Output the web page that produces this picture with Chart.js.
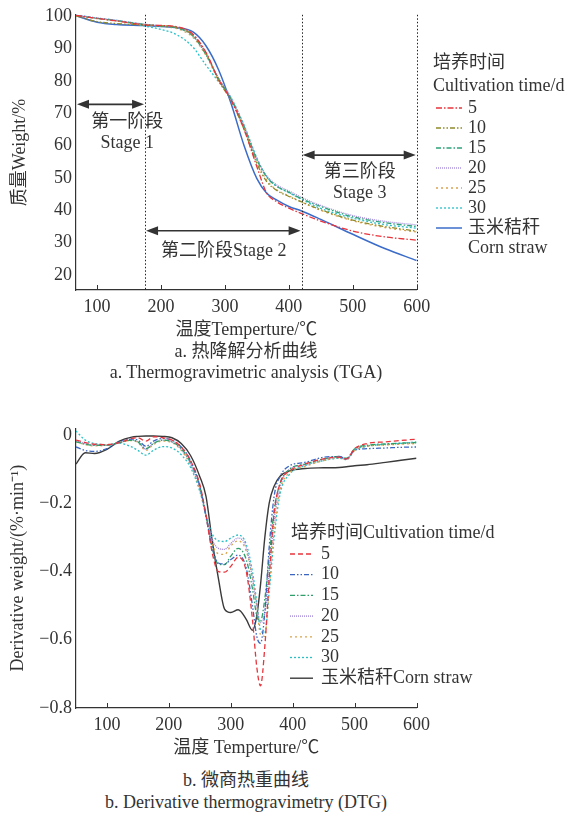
<!DOCTYPE html>
<html>
<head>
<meta charset="utf-8">
<title>TGA / DTG</title>
<script src="https://cdn.jsdelivr.net/npm/chart.js@4.4.1/dist/chart.umd.min.js"></script>
<style>
  body { margin: 0; background: #fff; }
  #page { position: relative; width: 571px; height: 816px; overflow: hidden; color: #333;
          font-family: "Liberation Serif", "Noto Sans CJK SC", serif; }
  canvas { position: absolute; left: 0; }
  #tga { top: 0; }
  #dtg { top: 400px; }
  .cap { position: absolute; left: 0; width: 492px; text-align: center; font-size: 18px;
         line-height: 21px; white-space: nowrap; }
</style>
</head>
<body>
<div id="page">
  <canvas id="tga" width="571" height="345"></canvas>
  <div class="cap" style="top:341px">a. 热降解分析曲线</div>
  <div class="cap" style="top:362px">a. Thermogravimetric analysis (TGA)</div>
  <canvas id="dtg" width="571" height="362"></canvas>
  <div class="cap" style="top:770px">b. 微商热重曲线</div>
  <div class="cap" style="top:792px">b. Derivative thermogravimetry (DTG)</div>
</div>
<script>
const FONT = '"Liberation Serif", "Noto Sans CJK SC", serif';
Chart.defaults.font.family = FONT;
Chart.defaults.font.size = 18;
Chart.defaults.color = '#333';

// ---- a. TGA, weight % vs temperature ----
const tgaTemp  = [67, 100, 130, 175, 200, 225, 250, 270, 290, 310, 330, 350, 365, 380, 400, 420, 450, 500, 550, 600];
const tga5     = [100.3, 99.4, 98.6, 97.4, 97.2, 96.8, 94.5, 89.0, 80.5, 74.0, 65.0, 53.5, 45.5, 42.8, 40.7, 39.0, 36.7, 33.6, 31.8, 30.8];
const tga10    = [100.2, 98.4, 97.8, 97.3, 97.1, 96.6, 94.2, 88.8, 80.2, 73.8, 65.0, 54.5, 49.0, 46.3, 44.3, 42.6, 40.2, 37.0, 35.0, 33.6];
const tga15    = [100.3, 99.4, 98.7, 97.5, 97.0, 96.4, 93.9, 88.3, 80.7, 74.3, 65.8, 55.6, 50.4, 47.6, 45.6, 43.6, 41.2, 38.0, 36.2, 35.0];
const tga20    = [100.4, 99.5, 98.8, 97.6, 97.1, 96.5, 94.0, 88.5, 81.0, 74.7, 66.2, 56.0, 50.8, 48.0, 46.0, 44.0, 41.5, 38.4, 36.6, 35.5];
const tga25    = [100.2, 99.3, 98.6, 97.3, 96.9, 96.2, 93.5, 88.0, 80.3, 74.0, 65.3, 55.0, 49.5, 46.5, 44.5, 42.6, 40.0, 36.8, 34.7, 33.3];
const tga30    = [100.5, 99.5, 98.8, 97.0, 96.0, 94.3, 90.5, 85.0, 79.8, 74.6, 66.3, 56.2, 50.6, 47.6, 45.5, 43.4, 40.6, 37.6, 35.6, 34.5];
const tgaStraw = [100.2, 98.2, 97.5, 97.2, 96.9, 96.5, 95.2, 91.0, 83.5, 72.8, 60.0, 49.8, 45.4, 43.3, 41.2, 39.8, 37.2, 32.6, 28.2, 24.5];
const tgaXTicks = [100, 200, 300, 400, 500, 600];
const tgaYTicks = [20, 30, 40, 50, 60, 70, 80, 90, 100];

// stage dividers and arrows
const stageEdges = [175, 420, 600];
const stages = [
  { from: 67,  to: 175, level: 72.8, tx: 147, ty: 67.3, text: ['第一阶段', 'Stage 1'] },
  { from: 175, to: 420, level: 33.7, tx: 298, ty: 27.5, text: ['第二阶段Stage 2'] },
  { from: 420, to: 600, level: 57.1, tx: 511, ty: 51.9, text: ['第三阶段', 'Stage 3'] }
];

// ---- b. DTG, %/min vs temperature ----
const dtgTemp  = [50, 65, 80, 100, 120, 140, 150, 163, 175, 190, 205, 220, 235, 250, 260, 270, 280, 290, 300, 312,
                  325, 335, 342, 348, 355, 362, 370, 380, 395, 420, 450, 475, 487, 500, 520, 550, 575, 600];
const dtg5     = [-0.015, -0.022, -0.027, -0.028, -0.022, -0.010, -0.008, -0.018, -0.005, -0.008, -0.015, -0.035, -0.075, -0.145, -0.235, -0.345, -0.400, -0.402, -0.385, -0.358,
                  -0.400, -0.540, -0.680, -0.735, -0.620, -0.420, -0.230, -0.140, -0.105, -0.085, -0.070, -0.065, -0.070, -0.040, -0.025, -0.020, -0.016, -0.012];
const dtg10    = [-0.035, -0.045, -0.048, -0.040, -0.020, -0.012, -0.015, -0.033, -0.018, -0.010, -0.015, -0.035, -0.075, -0.150, -0.240, -0.330, -0.375, -0.378, -0.365, -0.352,
                  -0.390, -0.500, -0.590, -0.610, -0.520, -0.330, -0.180, -0.120, -0.090, -0.080, -0.065, -0.063, -0.070, -0.045, -0.040, -0.038, -0.036, -0.035];
const dtg15    = [-0.020, -0.027, -0.030, -0.030, -0.022, -0.015, -0.020, -0.040, -0.025, -0.015, -0.020, -0.040, -0.080, -0.150, -0.235, -0.330, -0.378, -0.380, -0.355, -0.332,
                  -0.365, -0.450, -0.530, -0.545, -0.480, -0.360, -0.220, -0.140, -0.100, -0.085, -0.070, -0.063, -0.068, -0.040, -0.030, -0.026, -0.024, -0.022];
const dtg20    = [-0.018, -0.025, -0.030, -0.030, -0.022, -0.015, -0.020, -0.042, -0.025, -0.015, -0.020, -0.042, -0.085, -0.155, -0.235, -0.305, -0.332, -0.335, -0.318, -0.302,
                  -0.330, -0.420, -0.500, -0.550, -0.520, -0.400, -0.250, -0.150, -0.100, -0.088, -0.072, -0.065, -0.070, -0.042, -0.032, -0.028, -0.025, -0.023];
const dtg25    = [-0.020, -0.028, -0.032, -0.030, -0.022, -0.016, -0.022, -0.045, -0.028, -0.018, -0.022, -0.045, -0.088, -0.160, -0.240, -0.320, -0.348, -0.350, -0.325, -0.310,
                  -0.340, -0.420, -0.500, -0.585, -0.590, -0.450, -0.280, -0.160, -0.110, -0.092, -0.075, -0.067, -0.072, -0.045, -0.033, -0.029, -0.027, -0.025];
const dtg30    = [0.012, -0.015, -0.025, -0.028, -0.024, -0.035, -0.045, -0.059, -0.045, -0.034, -0.038, -0.058, -0.095, -0.165, -0.235, -0.290, -0.310, -0.312, -0.302, -0.293,
                  -0.320, -0.400, -0.490, -0.570, -0.580, -0.460, -0.300, -0.170, -0.115, -0.090, -0.075, -0.068, -0.072, -0.045, -0.033, -0.027, -0.024, -0.020];
const dtgStraw = [-0.085, -0.052, -0.054, -0.042, -0.018, -0.006, -0.004, -0.003, -0.003, -0.004, -0.008, -0.025, -0.060, -0.122, -0.180, -0.310, -0.420, -0.510, -0.520, -0.512,
                  -0.540, -0.572, -0.530, -0.440, -0.300, -0.200, -0.150, -0.120, -0.105, -0.098, -0.096, -0.095, -0.093, -0.090, -0.087, -0.080, -0.074, -0.068];
const dtgXTicks = [100, 200, 300, 400, 500, 600];
const dtgYTicks = [0, -0.2, -0.4, -0.6, -0.8];

const toPoints = (xs, ys) => xs.map((x, i) => ({ x: x, y: ys[i] }));

function series(label, xs, ys, color, dash, width) {
  return {
    label: label,
    data: toPoints(xs, ys),
    borderColor: color,
    backgroundColor: color,
    borderDash: dash,
    borderWidth: width || 1.3,
    pointRadius: 0,
    fill: false,
    cubicInterpolationMode: 'monotone'
  };
}

// tick marks pointing into the plot
const innerTicks = {
  id: 'innerTicks',
  afterDraw(chart) {
    const { ctx, chartArea, scales: { x } } = chart;
    ctx.save();
    ctx.strokeStyle = '#333';
    ctx.lineWidth = 1;
    x.ticks.forEach(t => {
      const px = Math.round(x.getPixelForValue(t.value)) + 0.5;
      ctx.beginPath();
      ctx.moveTo(px, chartArea.bottom);
      ctx.lineTo(px, chartArea.bottom - 5);
      ctx.stroke();
    });
    ctx.restore();
  }
};

// legend drawn beside the plot
const sideLegend = {
  id: 'sideLegend',
  afterDraw(chart, args, o) {
    const { ctx } = chart;
    ctx.save();
    ctx.font = '18px ' + FONT;
    ctx.fillStyle = '#333';
    ctx.textBaseline = 'middle';
    ctx.textAlign = 'left';
    o.title.split('\n').forEach((t, i) => ctx.fillText(t, o.titleX, o.titleY + i * o.titleGap));
    chart.data.datasets.forEach((ds, i) => {
      const y = o.itemY + i * o.rowH;
      ctx.strokeStyle = ds.borderColor;
      ctx.lineWidth = ds.borderWidth;
      ctx.setLineDash(ds.borderDash || []);
      ctx.beginPath();
      ctx.moveTo(o.x1, y);
      ctx.lineTo(o.x2, y);
      ctx.stroke();
      ctx.setLineDash([]);
      ds.label.split('\n').forEach((s, k) => ctx.fillText(s, o.textX, y + k * o.rowH));
    });
    ctx.restore();
  }
};

function arrow(ctx, x1, x2, y) {
  const L = 12, W = 4.5;
  ctx.beginPath();
  ctx.moveTo(x1 + L - 2, y);
  ctx.lineTo(x2 - L + 2, y);
  ctx.stroke();
  ctx.beginPath();
  ctx.moveTo(x1, y); ctx.lineTo(x1 + L, y - W); ctx.lineTo(x1 + L, y + W); ctx.closePath();
  ctx.fill();
  ctx.beginPath();
  ctx.moveTo(x2, y); ctx.lineTo(x2 - L, y - W); ctx.lineTo(x2 - L, y + W); ctx.closePath();
  ctx.fill();
}

const stageMarks = {
  id: 'stageMarks',
  afterDatasetsDraw(chart) {
    const { ctx, chartArea: a, scales: { x, y } } = chart;
    ctx.save();
    ctx.strokeStyle = '#222';
    ctx.lineWidth = 1;
    ctx.setLineDash([1.5, 2]);
    stageEdges.forEach(t => {
      const px = Math.round(x.getPixelForValue(t)) + 0.5;
      ctx.beginPath();
      ctx.moveTo(px, a.top);
      ctx.lineTo(px, a.bottom);
      ctx.stroke();
    });
    ctx.setLineDash([]);
    ctx.strokeStyle = '#333';
    ctx.fillStyle = '#333';
    ctx.lineWidth = 1.6;
    ctx.font = '18px ' + FONT;
    ctx.textAlign = 'center';
    ctx.textBaseline = 'middle';
    stages.forEach(s => {
      arrow(ctx, x.getPixelForValue(s.from) + 1, x.getPixelForValue(s.to) - 1, y.getPixelForValue(s.level));
      s.text.forEach((t, i) => ctx.fillText(t, x.getPixelForValue(s.tx), y.getPixelForValue(s.ty) + i * 21));
    });
    ctx.restore();
  }
};

const axisStyle = {
  grid: { drawOnChartArea: false, drawTicks: false },
  border: { color: '#333', width: 1.2 }
};

// ---------- a. TGA ----------
new Chart(document.getElementById('tga'), {
  type: 'line',
  data: {
    datasets: [
      series('5', tgaTemp, tga5, '#e8343c', [6, 2, 1.5, 2]),
      series('10', tgaTemp, tga10, '#8f8a2a', [5, 2, 1.5, 2, 1.5, 2]),
      series('15', tgaTemp, tga15, '#2ea37a', [5, 2, 1.5, 2]),
      series('20', tgaTemp, tga20, '#9d85d8', [1, 1]),
      series('25', tgaTemp, tga25, '#d9a350', [2, 3]),
      series('30', tgaTemp, tga30, '#27c0c9', [2, 2]),
      series('玉米秸秆\nCorn straw', tgaTemp, tgaStraw, '#3b6cc9', [], 1.5)
    ]
  },
  plugins: [innerTicks, stageMarks, sideLegend],
  options: {
    responsive: false,
    animation: false,
    events: [],
    layout: { padding: { left: 0, right: 154.3, top: 14.4, bottom: 0 } },
    scales: {
      x: {
        type: 'linear', min: 67, max: 600, ...axisStyle,
        afterBuildTicks: s => { s.ticks = tgaXTicks.map(v => ({ value: v })); },
        afterFit: s => { s.height = 55; },
        ticks: { padding: 6, maxRotation: 0, autoSkip: false },
        title: { display: true, text: '温度Temperture/℃', padding: { top: 0, bottom: 4 } }
      },
      y: {
        min: 15.37, max: 100.5, ...axisStyle,
        afterBuildTicks: s => { s.ticks = tgaYTicks.map(v => ({ value: v })); },
        afterFit: s => { s.width = 76; },
        ticks: { padding: 4 },
        title: { display: true, text: '质量Weight/%', padding: { top: 9, bottom: 0 } }
      }
    },
    plugins: {
      legend: { display: false },
      tooltip: { enabled: false },
      sideLegend: {
        title: '培养时间\nCultivation time/d', titleX: 433, titleY: 63, titleGap: 23,
        itemY: 108, rowH: 20, x1: 436, x2: 462, textX: 468
      }
    }
  }
});

// ---------- b. DTG ----------
new Chart(document.getElementById('dtg'), {
  type: 'line',
  data: {
    datasets: [
      series('5', dtgTemp, dtg5, '#e8343c', [5, 3]),
      series('10', dtgTemp, dtg10, '#3a66c2', [5, 2, 1.5, 2, 1.5, 2]),
      series('15', dtgTemp, dtg15, '#2e9e6a', [5, 2, 1.5, 2]),
      series('20', dtgTemp, dtg20, '#9b7fd6', [1, 1]),
      series('25', dtgTemp, dtg25, '#d8a44c', [2, 3]),
      series('30', dtgTemp, dtg30, '#2bbfc6', [2, 2]),
      series('玉米秸秆Corn straw', dtgTemp, dtgStraw, '#3a3a3a', [], 1.4)
    ]
  },
  plugins: [innerTicks, sideLegend],
  options: {
    responsive: false,
    animation: false,
    events: [],
    layout: { padding: { left: 0, right: 154.5, top: 28.2, bottom: 0 } },
    scales: {
      x: {
        type: 'linear', min: 50, max: 600, ...axisStyle,
        afterBuildTicks: s => { s.ticks = dtgXTicks.map(v => ({ value: v })); },
        afterFit: s => { s.height = 54; },
        ticks: { padding: 6, maxRotation: 0, autoSkip: false },
        title: { display: true, text: '温度 Temperture/℃', padding: { top: 0, bottom: 3 } }
      },
      y: {
        min: -0.8, max: 0.02, ...axisStyle,
        afterBuildTicks: s => { s.ticks = dtgYTicks.map(v => ({ value: v })); },
        afterFit: s => { s.width = 76; },
        ticks: { padding: 4, callback: v => (v === 0 ? '0' : String(v).replace('-', '\u2212')) },
        title: { display: true, text: 'Derivative weight/(%·min⁻¹)', padding: { top: 7, bottom: 0 } }
      }
    },
    plugins: {
      legend: { display: false },
      tooltip: { enabled: false },
      sideLegend: {
        title: '培养时间Cultivation time/d', titleX: 291, titleY: 133, titleGap: 21,
        itemY: 154, rowH: 20.7, x1: 290, x2: 313, textX: 321
      }
    }
  }
});
</script>
</body>
</html>
